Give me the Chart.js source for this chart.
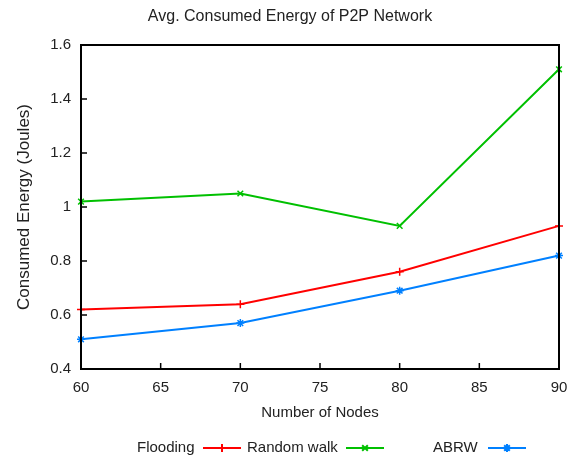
<!DOCTYPE html>
<html>
<head>
<meta charset="utf-8">
<script src="https://cdn.jsdelivr.net/npm/chart.js@4/dist/chart.umd.min.js"></script>
<style>
html,body{margin:0;padding:0;background:#fff;}
#wrap{width:572px;height:459px;position:relative;}
</style>
</head>
<body>
<div id="wrap"><canvas id="c" width="572" height="459"></canvas></div>
<script>
const nodes = [60, 70, 80, 90];
const flooding = [0.62, 0.64, 0.76, 0.93];
const randomWalk = [1.02, 1.05, 0.93, 1.51];
const abrw = [0.51, 0.57, 0.69, 0.82];
const xTicks = [60, 65, 70, 75, 80, 85, 90];
const yTicks = [0.4, 0.6, 0.8, 1.0, 1.2, 1.4, 1.6];
const seriesNames = ['Flooding', 'Random walk', 'ABRW'];
const seriesColors = ['#ff0000', '#00c000', '#0080ff'];
const seriesMarkers = ['cross', 'crossRot', 'star'];

const FONT = 'Liberation Sans, Arial, sans-serif';

function pts(vals){ return nodes.map((x,i)=>({x:x,y:vals[i]})); }

const frame = {
  id:'frame',
  afterDraw(chart){
    const ctx = chart.ctx, a = chart.chartArea;
    const xs = chart.scales.x, ys = chart.scales.y;
    ctx.save();
    ctx.strokeStyle = '#000';
    ctx.lineWidth = 1.5;
    ctx.beginPath();
    xTicks.forEach(v=>{ const px = xs.getPixelForValue(v); ctx.moveTo(px, a.bottom); ctx.lineTo(px, a.bottom-6); });
    yTicks.forEach(v=>{ const py = ys.getPixelForValue(v); ctx.moveTo(a.left, py); ctx.lineTo(a.left+6, py); });
    ctx.stroke();
    ctx.lineWidth = 2;
    ctx.strokeRect(a.left, a.top, a.right-a.left, a.bottom-a.top);
    // title
    ctx.fillStyle = '#222';
    ctx.font = '16px ' + FONT;
    ctx.textAlign = 'center';
    ctx.textBaseline = 'middle';
    ctx.fillText('Avg. Consumed Energy of P2P Network', 290, 17);
    // legend (label then sample)
    const items = [
      {tx:137, lx:203},
      {tx:247, lx:346},
      {tx:433, lx:488}
    ];
    const ly = 448;
    ctx.font = '15px ' + FONT;
    ctx.textAlign = 'left';
    items.forEach((it,i)=>{
      ctx.fillStyle = '#222';
      ctx.fillText(seriesNames[i], it.tx, ly);
      ctx.strokeStyle = seriesColors[i];
      ctx.lineWidth = 2;
      ctx.beginPath(); ctx.moveTo(it.lx, ly); ctx.lineTo(it.lx+38, ly); ctx.stroke();
      Chart.helpers.drawPoint(ctx, {pointStyle: seriesMarkers[i], radius: 4, borderWidth: 1.5, rotation:0}, it.lx+19, ly);
    });
    ctx.restore();
  }
};

new Chart(document.getElementById('c'), {
  type: 'line',
  data: {
    datasets: [0,1,2].map(i=>({
      label: seriesNames[i],
      data: pts([flooding, randomWalk, abrw][i]),
      borderColor: seriesColors[i],
      backgroundColor: seriesColors[i],
      borderWidth: 2,
      pointStyle: seriesMarkers[i],
      pointRadius: 4,
      pointBorderWidth: 1.5,
      pointHoverRadius: 4,
      tension: 0,
      fill: false,
      clip: false
    }))
  },
  options: {
    responsive: false,
    animation: false,
    events: [],
    layout: { padding: { left: 0, top: 45, right: 13, bottom: 0 } },
    plugins: { legend: { display: false }, title: { display: false }, tooltip: { enabled: false } },
    scales: {
      x: {
        type: 'linear', min: 60, max: 90,
        afterBuildTicks: s => { s.ticks = xTicks.map(v=>({value:v})); },
        afterFit: s => { s.height = 90; s.paddingLeft = 0; s.paddingRight = 0; },
        grid: { display: false, drawTicks: false },
        border: { display: false },
        ticks: { color: '#222', font: { family: FONT, size: 15 }, padding: 10, maxRotation: 0 },
        title: { display: true, text: 'Number of Nodes', color: '#222', font: { family: FONT, size: 15 }, padding: { top: 0, bottom: 37 } }
      },
      y: {
        type: 'linear', min: 0.4, max: 1.6,
        afterBuildTicks: s => { s.ticks = yTicks.map(v=>({value:v})); },
        afterFit: s => { s.width = 81; s.paddingTop = 0; s.paddingBottom = 0; },
        grid: { display: false, drawTicks: false },
        border: { display: false },
        ticks: { color: '#222', font: { family: FONT, size: 15 }, padding: 10,
          callback: v => (Math.abs(v-1)<1e-9 ? '1' : Number(v).toFixed(1)) },
        title: { display: true, text: 'Consumed Energy (Joules)', color: '#222', font: { family: FONT, size: 17 }, padding: { top: 14, bottom: 0 } }
      }
    }
  },
  plugins: [frame]
});
</script>
</body>
</html>
